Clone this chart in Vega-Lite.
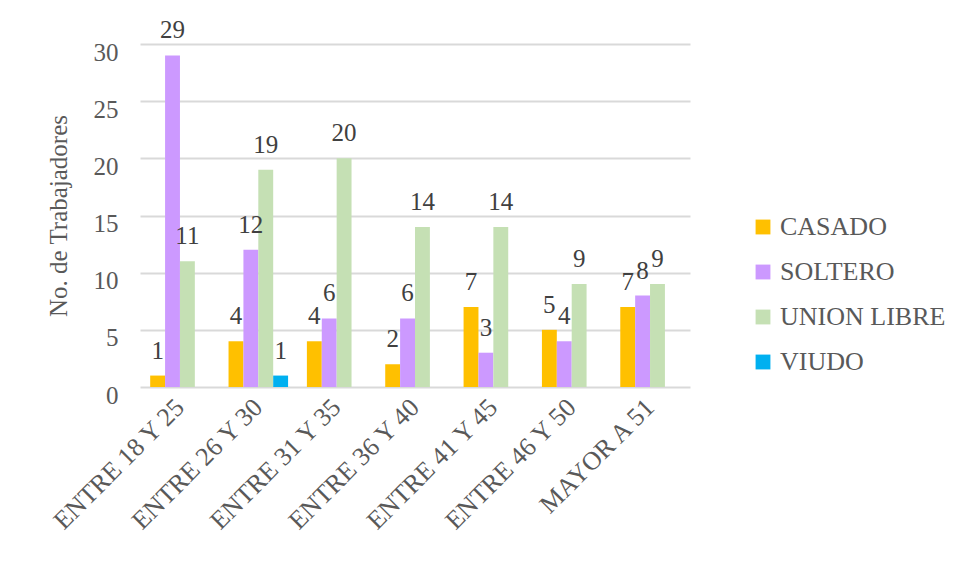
{
  "$schema": "https://vega.github.io/schema/vega-lite/v6.json",
  "width": 550,
  "height": 343,
  "autosize": "none",
  "padding": {"left": 140, "top": 44, "right": 272, "bottom": 194},
  "background": "white",
  "config": {
    "font": "Liberation Serif",
    "view": {"stroke": null},
    "axis": {"labelFont": "Liberation Serif", "titleFont": "Liberation Serif"},
    "legend": {"labelFont": "Liberation Serif", "titleFont": "Liberation Serif"},
    "text": {"font": "Liberation Serif"}
  },
  "data": {
    "values": [
      {"grupo": "ENTRE 18 Y 25", "estado": "CASADO", "n": 1},
      {"grupo": "ENTRE 18 Y 25", "estado": "SOLTERO", "n": 29},
      {"grupo": "ENTRE 18 Y 25", "estado": "UNION LIBRE", "n": 11},
      {"grupo": "ENTRE 26 Y 30", "estado": "CASADO", "n": 4},
      {"grupo": "ENTRE 26 Y 30", "estado": "SOLTERO", "n": 12},
      {"grupo": "ENTRE 26 Y 30", "estado": "UNION LIBRE", "n": 19},
      {"grupo": "ENTRE 26 Y 30", "estado": "VIUDO", "n": 1},
      {"grupo": "ENTRE 31 Y 35", "estado": "CASADO", "n": 4},
      {"grupo": "ENTRE 31 Y 35", "estado": "SOLTERO", "n": 6},
      {"grupo": "ENTRE 31 Y 35", "estado": "UNION LIBRE", "n": 20},
      {"grupo": "ENTRE 36 Y 40", "estado": "CASADO", "n": 2},
      {"grupo": "ENTRE 36 Y 40", "estado": "SOLTERO", "n": 6},
      {"grupo": "ENTRE 36 Y 40", "estado": "UNION LIBRE", "n": 14},
      {"grupo": "ENTRE 41  Y 45", "estado": "CASADO", "n": 7},
      {"grupo": "ENTRE 41  Y 45", "estado": "SOLTERO", "n": 3},
      {"grupo": "ENTRE 41  Y 45", "estado": "UNION LIBRE", "n": 14},
      {"grupo": "ENTRE 46 Y 50", "estado": "CASADO", "n": 5},
      {"grupo": "ENTRE 46 Y 50", "estado": "SOLTERO", "n": 4},
      {"grupo": "ENTRE 46 Y 50", "estado": "UNION LIBRE", "n": 9},
      {"grupo": "MAYOR A 51", "estado": "CASADO", "n": 7},
      {"grupo": "MAYOR A 51", "estado": "SOLTERO", "n": 8},
      {"grupo": "MAYOR A 51", "estado": "UNION LIBRE", "n": 9}
    ]
  },
  "encoding": {
    "x": {
      "field": "grupo",
      "type": "nominal",
      "sort": null,
      "scale": {"paddingInner": 0.24, "paddingOuter": 0.13},
      "axis": {
        "title": null,
        "labelAngle": -45,
        "labelAlign": "right",
        "labelBaseline": "middle",
        "labelFont": "Liberation Serif",
        "labelFontSize": 26,
        "labelColor": "#595959",
        "labelPadding": 16,
        "labelLimit": 300,
        "domain": false,
        "ticks": false
      }
    },
    "xOffset": {
      "field": "estado",
      "type": "nominal",
      "scale": {"domain": ["CASADO", "SOLTERO", "UNION LIBRE", "VIUDO"]}
    },
    "y": {
      "field": "n",
      "type": "quantitative",
      "scale": {"domain": [0, 30], "nice": false},
      "axis": {
        "title": "No. de Trabajadores",
        "titleFont": "Liberation Serif",
        "titleFontSize": 25,
        "titleFontWeight": "normal",
        "titleColor": "#595959",
        "titlePadding": 22,
        "values": [0, 5, 10, 15, 20, 25, 30],
        "labelFont": "Liberation Serif",
        "labelFontSize": 25,
        "labelColor": "#595959",
        "labelPadding": 22,
        "labelBaseline": "top",
        "labelOffset": -4,
        "domain": false,
        "ticks": false,
        "grid": true,
        "gridColor": "#D9D9D9",
        "gridWidth": 2
      }
    }
  },
  "layer": [
    {
      "mark": {"type": "bar"},
      "encoding": {
        "color": {
          "field": "estado",
          "type": "nominal",
          "scale": {
            "domain": ["CASADO", "SOLTERO", "UNION LIBRE", "VIUDO"],
            "range": ["#FFC000", "#CC99FF", "#C5E0B4", "#00B0F0"]
          },
          "legend": {
            "title": null,
            "orient": "none",
            "legendX": 610,
            "legendY": 170,
            "symbolType": "square",
            "symbolSize": 220,
            "symbolStrokeWidth": 0,
            "labelFont": "Liberation Serif",
            "labelFontSize": 26,
            "labelColor": "#595959",
            "labelLimit": 400,
            "rowPadding": 19,
            "labelOffset": 4
          }
        }
      }
    },
    {
      "mark": {
        "type": "text",
        "baseline": "bottom",
        "dy": -12,
        "fontSize": 25,
        "font": "Liberation Serif",
        "color": "#404040"
      },
      "encoding": {"text": {"field": "n", "type": "quantitative"}}
    }
  ]
}
